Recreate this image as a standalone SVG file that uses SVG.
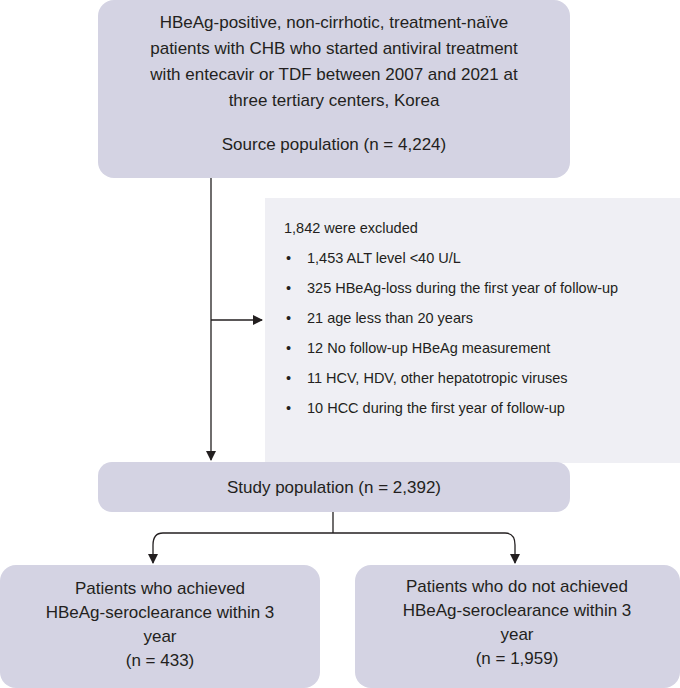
<svg xmlns="http://www.w3.org/2000/svg" width="680" height="688" viewBox="0 0 680 688">
<style>
.box{fill:#d4d3e3}
.t{font-family:"Liberation Sans",Arial,sans-serif;font-size:17px;fill:#231f20;text-anchor:middle}
.s{font-family:"Liberation Sans",Arial,sans-serif;font-size:14.5px;fill:#231f20}
.c{stroke:#231f20;stroke-width:1.3;fill:none}
</style>
<defs><marker id="a" markerWidth="10" markerHeight="10" refX="9" refY="5" orient="auto" markerUnits="userSpaceOnUse"><path d="M0,0 L10,5 L0,10 Z" fill="#231f20"/></marker></defs>
<g id="source"><rect class="box" x="98" y="0" width="472" height="178" rx="16"/>
<text class="t" x="334" y="28">HBeAg-positive, non-cirrhotic, treatment-naïve</text>
<text class="t" x="334" y="54">patients with CHB who started antiviral treatment</text>
<text class="t" x="334" y="80">with entecavir or TDF between 2007 and 2021 at</text>
<text class="t" x="334" y="106">three tertiary centers, Korea</text>
<text class="t" x="334" y="150">Source population (n = 4,224)</text></g>
<g id="excluded"><rect x="265" y="198" width="415" height="265" fill="#efeff4"/>
<text class="s" x="284" y="233">1,842 were excluded</text>
<g class="s"><text class="s" x="286" y="263">•</text><text class="s" x="307" y="263">1,453  ALT level &lt;40 U/L</text>
<text class="s" x="286" y="293">•</text><text class="s" x="307" y="293">325  HBeAg-loss during the first year of follow-up</text>
<text class="s" x="286" y="323">•</text><text class="s" x="307" y="323">21  age less than 20 years</text>
<text class="s" x="286" y="353">•</text><text class="s" x="307" y="353">12  No follow-up HBeAg measurement</text>
<text class="s" x="286" y="383">•</text><text class="s" x="307" y="383">11  HCV, HDV, other hepatotropic viruses</text>
<text class="s" x="286" y="413">•</text><text class="s" x="307" y="413">10  HCC during the first year of follow-up</text></g></g>
<g id="study"><rect class="box" x="98" y="462" width="472" height="50" rx="14"/>
<text class="t" x="334" y="493">Study population (n = 2,392)</text></g>
<g id="achieved"><rect class="box" x="0" y="565" width="320" height="123" rx="16"/>
<text class="t" x="160" y="594">Patients who achieved</text>
<text class="t" x="160" y="618">HBeAg-seroclearance within 3</text>
<text class="t" x="160" y="642">year</text>
<text class="t" x="160" y="666">(n = 433)</text></g>
<g id="notachieved"><rect class="box" x="355" y="565" width="325" height="123" rx="16"/>
<text class="t" x="517" y="592">Patients who do not achieved</text>
<text class="t" x="517" y="616">HBeAg-seroclearance within 3</text>
<text class="t" x="517" y="640">year</text>
<text class="t" x="517" y="664">(n = 1,959)</text></g>
<g id="connectors">
<path class="c" d="M211,178 V460" marker-end="url(#a)"/>
<path class="c" d="M211,320 H262" marker-end="url(#a)"/>
<path class="c" d="M333,512 V533"/>
<path class="c" d="M163,533 H505 Q515,533 515,545 V563" marker-end="url(#a)"/>
<path class="c" d="M163,533 Q153,533 153,545 V563" marker-end="url(#a)"/>
</g>
</svg>
